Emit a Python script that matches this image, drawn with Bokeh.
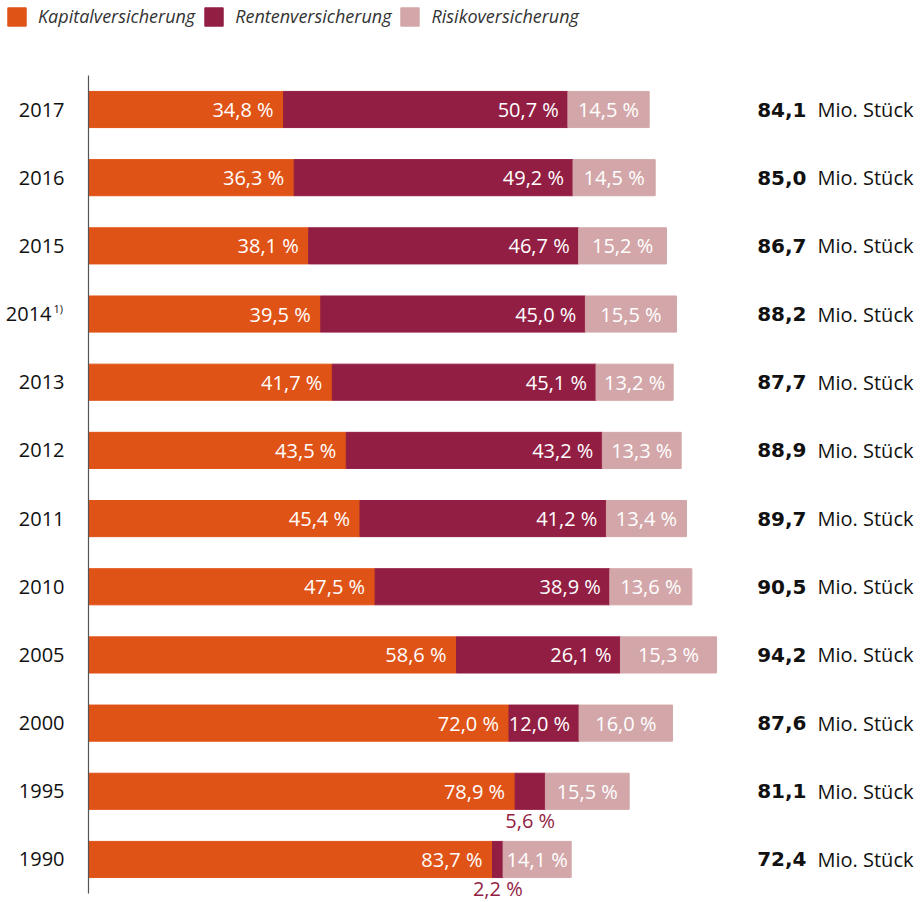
from bokeh.plotting import figure
from bokeh.models import ColumnDataSource, Range1d, Legend, LegendItem
from bokeh.core.properties import value
from bokeh.embed import file_html
from bokeh.resources import INLINE

# ---- data ----
years = ["2017", "2016", "2015", "2014", "2013", "2012", "2011", "2010", "2005", "2000", "1995", "1990"]
year_notes = ["", "", "", "1)", "", "", "", "", "", "", "", ""]
kapital = [34.8, 36.3, 38.1, 39.5, 41.7, 43.5, 45.4, 47.5, 58.6, 72.0, 78.9, 83.7]
renten = [50.7, 49.2, 46.7, 45.0, 45.1, 43.2, 41.2, 38.9, 26.1, 12.0, 5.6, 2.2]
risiko = [14.5, 14.5, 15.2, 15.5, 13.2, 13.3, 13.4, 13.6, 15.3, 16.0, 15.5, 14.1]
total = [84.1, 85.0, 86.7, 88.2, 87.7, 88.9, 89.7, 90.5, 94.2, 87.6, 81.1, 72.4]
series_names = ["Kapitalversicherung", "Rentenversicherung", "Risikoversicherung"]
unit_label = "Mio. St\u00fcck"

colors = ["#E05317", "#931E44", "#D3A7A9"]
FONT = "Open Sans"
TEXT_COLOR = "#111111"


def pct(v):
    return f"{v:.1f}".replace(".", ",") + " %"


def num(v):
    return f"{v:.1f}".replace(".", ",")


n = len(years)
rows = list(range(n))
kap_abs = [k * t / 100 for k, t in zip(kapital, total)]
ren_abs = [r * t / 100 for r, t in zip(renten, total)]
ris_abs = [s * t / 100 for s, t in zip(risiko, total)]

source = ColumnDataSource(dict(row=rows, kap=kap_abs, ren=ren_abs, ris=ris_abs))

W, H = 916, 902
PX_PER_UNIT = 6.667      # px per Mio. Stueck
X0_PX = 88               # pixel position of value 0
ROW_PX = 68.18           # row pitch in px
ROW0_PX = 109            # centre of first row in px

x_start = -X0_PX / PX_PER_UNIT
x_end = (W - X0_PX) / PX_PER_UNIT
y_top = -ROW0_PX / ROW_PX
y_bottom = (H - ROW0_PX) / ROW_PX

p = figure(
    width=W, height=H,
    x_range=Range1d(x_start, x_end),
    y_range=Range1d(y_bottom, y_top),
    output_backend="svg", toolbar_location=None,
    min_border=0, outline_line_color=None,
)
p.axis.visible = False
p.grid.visible = False

BAR_H = 0.53
rs = p.hbar_stack(["kap", "ren", "ris"], y="row", height=BAR_H, color=colors, source=source)

# category axis line
p.segment(x0=[0], x1=[0], y0=[-0.5], y1=[n - 0.5], line_color="#555555", line_width=1.2)

# year labels
p.text(x=[0] * n, y=rows, text=[y if not note else "" for y, note in zip(years, year_notes)],
       x_offset=-24, text_align="right", text_baseline="middle", text_color=TEXT_COLOR,
       text_font=value(FONT), text_font_size="20px")
note_rows = [i for i in rows if year_notes[i]]
p.text(x=[0] * len(note_rows), y=note_rows, text=[years[i] for i in note_rows],
       x_offset=-37, text_align="right", text_baseline="middle", text_color=TEXT_COLOR,
       text_font=value(FONT), text_font_size="20px")
p.text(x=[0] * len(note_rows), y=note_rows, text=[year_notes[i] for i in note_rows],
       x_offset=-35, y_offset=-6, text_align="left", text_baseline="middle", text_color=TEXT_COLOR,
       text_font=value(FONT), text_font_size="11px")

# ---- percent labels ----
kap_src = ColumnDataSource(dict(x=kap_abs, y=rows, t=[pct(v) for v in kapital]))
p.text(x="x", y="y", text="t", source=kap_src, x_offset=-10, text_align="right",
       text_baseline="middle", text_color="white", text_font=value(FONT), text_font_size="20px")

ren_in = [i for i, r in enumerate(renten) if r >= 10]
ren_out = [i for i, r in enumerate(renten) if r < 10]
ren_in_src = ColumnDataSource(dict(
    x=[kap_abs[i] + ren_abs[i] for i in ren_in], y=ren_in,
    t=[pct(renten[i]) for i in ren_in]))
p.text(x="x", y="y", text="t", source=ren_in_src, x_offset=-9, text_align="right",
       text_baseline="middle", text_color="white", text_font=value(FONT), text_font_size="20px")
ren_out_src = ColumnDataSource(dict(
    x=[kap_abs[i] + ren_abs[i] / 2 for i in ren_out], y=ren_out,
    t=[pct(renten[i]) for i in ren_out]))
p.text(x="x", y="y", text="t", source=ren_out_src, y_offset=29, text_align="center",
       text_baseline="middle", text_color=colors[1], text_font=value(FONT), text_font_size="20px")

ris_src = ColumnDataSource(dict(
    x=[k + r + s / 2 for k, r, s in zip(kap_abs, ren_abs, ris_abs)], y=rows,
    t=[pct(v) for v in risiko]))
p.text(x="x", y="y", text="t", source=ris_src, text_align="center",
       text_baseline="middle", text_color="white", text_font=value(FONT), text_font_size="20px")

# ---- totals on the right ----
tot_src = ColumnDataSource(dict(x=[x_end] * n, y=rows, t=[num(v) for v in total],
                                u=[unit_label] * n))
p.text(x="x", y="y", text="t", source=tot_src, x_offset=-110, text_align="right",
       text_baseline="middle", text_color=TEXT_COLOR, text_font=value("DejaVu Sans"),
       text_font_style="bold", text_font_size="20px")
p.text(x="x", y="y", text="u", source=tot_src, x_offset=-99, text_align="left",
       text_baseline="middle", text_color=TEXT_COLOR, text_font=value(FONT), text_font_size="20px")

# ---- legend ----
legend = Legend(
    items=[LegendItem(label=nm, renderers=[r]) for nm, r in zip(series_names, rs)],
    orientation="horizontal", location=(5, H - 28),
    glyph_width=23, glyph_height=23, label_standoff=10, spacing=7,
    padding=0, margin=0, border_line_color=None, background_fill_alpha=0,
    label_text_font=FONT, label_text_font_style="italic", label_text_font_size="18px",
    label_text_color="#333333", label_height=23,
)
p.add_layout(legend, "center")

open("out.html", "w").write(file_html(p, INLINE))
